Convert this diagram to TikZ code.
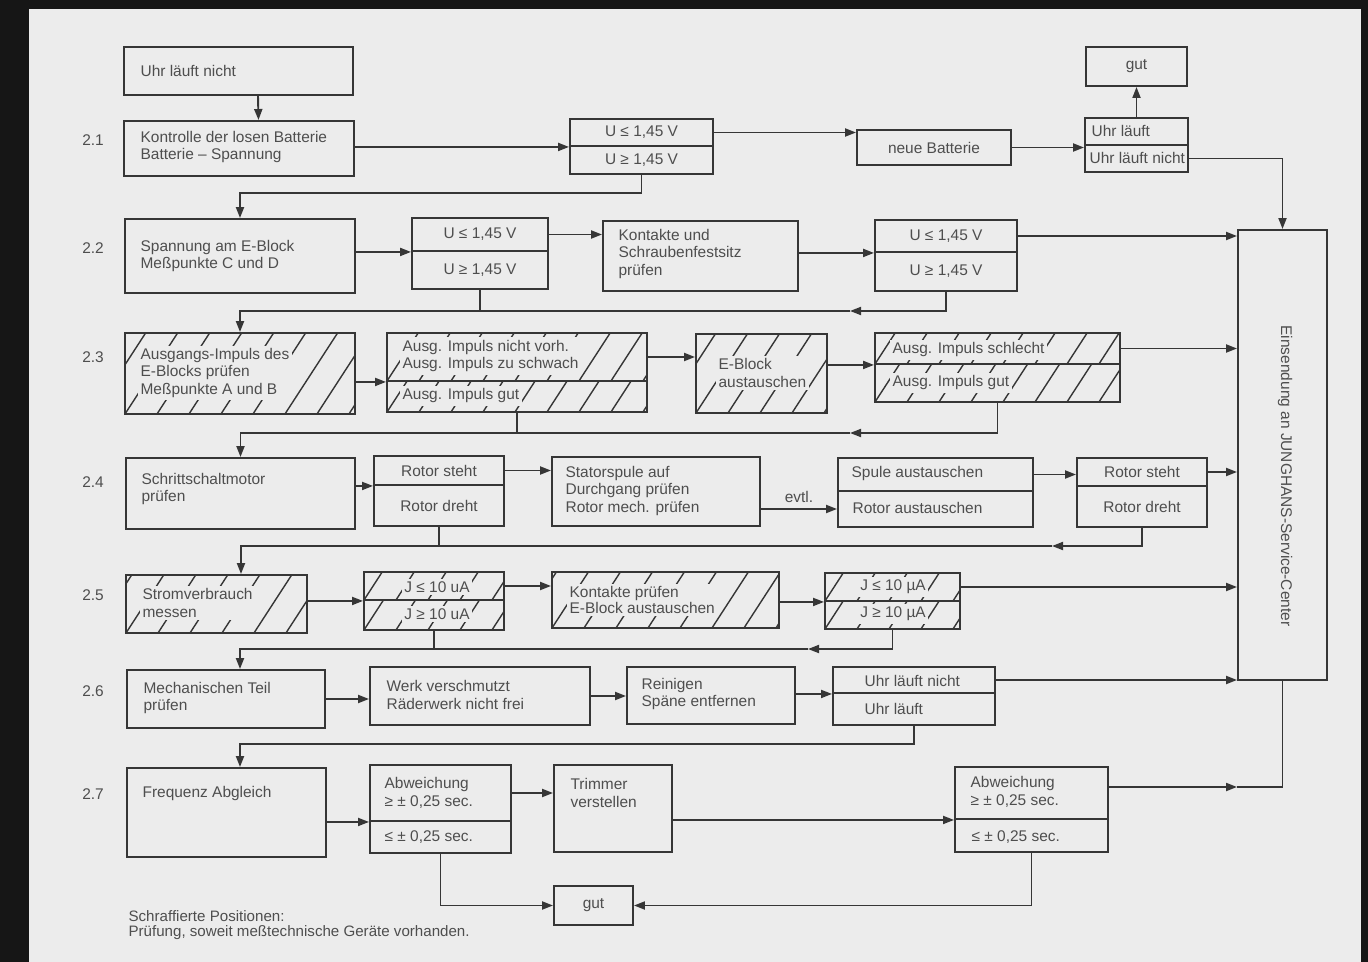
\documentclass[tikz,border=0pt]{standalone}
\usepackage{fontspec}
\setmainfont{Liberation Sans}
\usepackage{tikz}
\usetikzlibrary{arrows.meta,fit,calc}
\definecolor{Frame}{HTML}{161616}
\definecolor{Paper}{HTML}{ECECEC}
\definecolor{Ink}{HTML}{363636}
\definecolor{Type}{HTML}{4E4E4E}

\begin{document}
\begin{tikzpicture}[x=0.02cm,y=-0.02cm,color=Ink,line width=1.1pt,
  >={Triangle[length=2.2mm,width=1.6mm]},
  every node/.style={text=Type,font=\fontsize{8.8}{10}\selectfont},
  box/.style={draw,line width=1.1pt,fill=Paper,inner sep=0pt},
  hatch/.style={box,path picture={
    \foreach \k in {-3,...,9}
      \draw[line width=0.8pt] ([xshift=\k*0.64cm]path picture bounding box.south west) -- ++(57:3cm);}},
  txt/.style={anchor=west,align=left,inner sep=1.5pt},
  htxt/.style={txt,fill=Paper}]
% Page
\fill[Frame] (0,0) rectangle (1368,962);
\fill[Paper] (29,9) rectangle (1361,962);
% Row numbers
\foreach \n/\y [count=\i] in {2.1/140,2.2/248,2.3/357,2.4/482,2.5/595,2.6/691,2.7/794}
  \node (row\i) at (93,\y) {\n};

% Start
\node[box,fit={(124,47) (353,95)}] (start) {};
\node[txt] (tstart) at (137,71) {Uhr läuft nicht};
% 2.1
\node[box,fit={(124,121) (354,176)}] (b21) {};
\node[txt] (t21) at (137,147) {Kontrolle der losen Batterie\\Batterie – Spannung};
\node[box,fit={(570,119) (713,146)}] (s21u) {};
\node[box,fit={(570,146) (713,174)}] (s21l) {};
\node (ts21u) at (s21u) {U ≤ 1,45 V};
\node (ts21l) at (s21l) {U ≥ 1,45 V};
\node[box,fit={(857,130) (1011,165)}] (batt) {};
\node (tbatt) at (batt) {neue Batterie};
\node[box,fit={(1085,118) (1188,145)}] (r21u) {};
\node[box,fit={(1085,145) (1188,172)}] (r21l) {};
\node[txt] (tr21u) at (1088,131) {Uhr läuft};
\node[txt] (tr21l) at (1086,158) {Uhr läuft nicht};
\node[box,fit={(1086,47) (1187,86)}] (gut1) {};
\node (tgut1) at (gut1) {gut};
% Service-Center
\node[box,fit={(1238,230) (1327,680)}] (ej) {};
\node[rotate=-90] (tej) at (1285,476) {Einsendung an JUNGHANS-Service-Center};

% 2.2
\node[box,fit={(125,219) (355,293)}] (b22) {};
\node[txt] (t22) at (137,256) {Spannung am E-Block\\Meßpunkte C und D};
\node[box,fit={(412,218) (548,251)}] (s22u) {};
\node[box,fit={(412,251) (548,289)}] (s22l) {};
\node (ts22u) at (s22u) {U ≤ 1,45 V};
\node (ts22l) at (s22l) {U ≥ 1,45 V};
\node[box,fit={(603,221) (798,291)}] (kont) {};
\node[txt] (tkont) at (615,254) {Kontakte und\\Schraubenfestsitz\\prüfen};
\node[box,fit={(875,220) (1017,252)}] (s22bu) {};
\node[box,fit={(875,252) (1017,291)}] (s22bl) {};
\node (ts22bu) at (s22bu) {U ≤ 1,45 V};
\node (ts22bl) at (s22bl) {U ≥ 1,45 V};
\coordinate (j22) at (850,311);

% 2.3 (hatched)
\node[hatch,fit={(125,333) (355,414)}] (b23) {};
\node[htxt] (t23) at (137,373) {Ausgangs-Impuls des\\E-Blocks prüfen\\Meßpunkte A und B};
\node[hatch,fit={(387,333) (647,381)}] (s23u) {};
\node[hatch,fit={(387,381) (647,412)}] (s23l) {};
\node[htxt] (ts23u) at (399,356) {Ausg. Impuls nicht vorh.\\Ausg. Impuls zu schwach};
\node[htxt] (ts23l) at (399,396) {Ausg. Impuls gut};
\node[hatch,fit={(696,334) (827,413)}] (eblk) {};
\node[htxt] (teblk) at (715,373) {E-Block\\austauschen};
\node[hatch,fit={(875,333) (1120,364)}] (s23bu) {};
\node[hatch,fit={(875,364) (1120,402)}] (s23bl) {};
\node[htxt] (ts23bu) at (889,350) {Ausg. Impuls schlecht};
\node[htxt] (ts23bl) at (889,383) {Ausg. Impuls gut};
\coordinate (j23) at (850,433);

% 2.4
\node[box,fit={(126,458) (355,529)}] (b24) {};
\node[txt] (t24) at (138,489) {Schrittschaltmotor\\prüfen};
\node[box,fit={(374,456) (504,485)}] (s24u) {};
\node[box,fit={(374,485) (504,526)}] (s24l) {};
\node (ts24u) at (s24u) {Rotor steht};
\node (ts24l) at (s24l) {Rotor dreht};
\node[box,fit={(552,457) (760,526)}] (stat) {};
\node[txt] (tstat) at (562,491) {Statorspule auf\\Durchgang prüfen\\Rotor mech. prüfen};
\node[box,fit={(838,458) (1033,491)}] (sp24u) {};
\node[box,fit={(838,491) (1033,527)}] (sp24l) {};
\node[txt] (tsp24u) at (848,474) {Spule austauschen};
\node[txt] (tsp24l) at (849,508) {Rotor austauschen};
\node[box,fit={(1077,458) (1207,486)}] (s24bu) {};
\node[box,fit={(1077,486) (1207,527)}] (s24bl) {};
\node (ts24bu) at (s24bu) {Rotor steht};
\node (ts24bl) at (s24bl) {Rotor dreht};
\coordinate (j24) at (1052,546);

% 2.5 (hatched)
\node[hatch,fit={(126,575) (307,633)}] (b25) {};
\node[htxt] (t25) at (139,603) {Stromverbrauch\\messen};
\node[hatch,fit={(364,572) (504,600)}] (s25u) {};
\node[hatch,fit={(364,600) (504,630)}] (s25l) {};
\node[htxt,anchor=center] (ts25u) at (437,587) {J ≤ 10 uA};
\node[htxt,anchor=center] (ts25l) at (437,614) {J ≥ 10 uA};
\node[hatch,fit={(552,572) (779,628)}] (kont25) {};
\node[htxt,font=\fontsize{8.8}{9}\selectfont] (tkont25) at (566,600) {Kontakte prüfen\\E-Block austauschen};
\node[hatch,fit={(825,573) (960,601)}] (s25bu) {};
\node[hatch,fit={(825,601) (960,629)}] (s25bl) {};
\node[htxt,anchor=center] (ts25bu) at (893,587) {J ≤ 10 µA};
\node[htxt,anchor=center] (ts25bl) at (893,614) {J ≥ 10 µA};
\coordinate (j25) at (808,649);

% 2.6
\node[box,fit={(127,670) (325,728)}] (b26) {};
\node[txt] (t26) at (140,698) {Mechanischen Teil\\prüfen};
\node[box,fit={(370,667) (590,725)}] (werk) {};
\node[txt] (twerk) at (383,695) {Werk verschmutzt\\Räderwerk nicht frei};
\node[box,fit={(627,667) (795,724)}] (rein) {};
\node[txt] (trein) at (638,694) {Reinigen\\Späne entfernen};
\node[box,fit={(833,667) (995,693)}] (s26u) {};
\node[box,fit={(833,693) (995,725)}] (s26l) {};
\node[txt] (ts26u) at (861,681) {Uhr läuft nicht};
\node[txt] (ts26l) at (861,709) {Uhr läuft};

% 2.7
\node[box,fit={(127,768) (326,857)}] (b27) {};
\node[txt] (t27) at (139,793) {Frequenz Abgleich};
\node[box,fit={(370,765) (511,821)}] (s27u) {};
\node[box,fit={(370,821) (511,853)}] (s27l) {};
\node[txt] (ts27u) at (381,793) {Abweichung\\≥ ± 0,25 sec.};
\node[txt] (ts27l) at (381,837) {≤ ± 0,25 sec.};
\node[box,fit={(554,765) (672,852)}] (trim) {};
\node[txt] (ttrim) at (567,793) {Trimmer\\verstellen};
\node[box,fit={(955,767) (1108,819)}] (s27bu) {};
\node[box,fit={(955,819) (1108,852)}] (s27bl) {};
\node[txt] (ts27bu) at (967,792) {Abweichung\\≥ ± 0,25 sec.};
\node[txt] (ts27bl) at (968,837) {≤ ± 0,25 sec.};
\node[box,fit={(554,886) (633,925)}] (gut2) {};
\node (tgut2) at (gut2) {gut};
\coordinate (j27) at (1237,787);

% Footnote
\node[txt,font=\fontsize{8.6}{8.6}\selectfont] (fn) at (125,925) {Schraffierte Positionen:\\Prüfung, soweit meßtechnische Geräte vorhanden.};

% Connectors 2.1
\draw[->] ([xshift=0.39cm]start.south) -- ([xshift=0.39cm]b21.north);
\draw[->] (b21.east |- s21u.south) -- (s21u.south west);
\draw[->] (s21u.east) -- (s21u.east -| batt.west);
\draw[->] (batt.east) -- (batt.east -| r21u.west);
\draw[->] (r21u.north) -- (gut1.south);
\draw[->] (r21l.east) -| (ej.north);
\draw[->] (s21l.south) -- ++(0,18) -| (b22.north);
% Connectors 2.2
\draw[->] (b22.east |- s22u.south) -- (s22u.south west);
\draw[->] (s22u.east) -- (s22u.east -| kont.west);
\draw[->] (kont.east |- s22bu.south) -- (s22bu.south west);
\draw[->] (s22bu.east) -- (s22bu.east -| ej.west);
\draw (s22l.south) -- (s22l.south |- j22);
\draw[->] (s22bl.south) |- (j22);
\draw[->] (j22) -| (b23.north);
% Connectors 2.3
\draw[->] (b23.east |- s23u.south) -- (s23u.south west);
\draw[->] (s23u.east) -- (s23u.east -| eblk.west);
\draw[->] (eblk.east |- s23bu.south) -- (s23bu.south west);
\draw[->] (s23bu.east) -- (s23bu.east -| ej.west);
\draw (s23l.south) -- (s23l.south |- j23);
\draw[->] (s23bl.south) |- (j23);
\draw[->] (j23) -| (b24.north);
% Connectors 2.4
\draw[->] (b24.east |- s24u.south) -- (s24u.south west);
\draw[->] (s24u.east) -- (s24u.east -| stat.west);
\draw[->] (sp24l.west -| stat.east) -- node[above] (evtl) {evtl.} (sp24l.west);
\draw[->] (sp24u.east) -- (sp24u.east -| s24bu.west);
\draw[->] (s24bu.east) -- (s24bu.east -| ej.west);
\draw (s24l.south) -- (s24l.south |- j24);
\draw[->] (s24bl.south) |- (j24);
\draw[->] (j24) -| ([xshift=0.49cm]b25.north);
% Connectors 2.5
\draw[->] (b25.east |- s25u.south) -- (s25u.south west);
\draw[->] (s25u.east) -- (s25u.east -| kont25.west);
\draw[->] (kont25.east |- s25bu.south) -- (s25bu.south west);
\draw[->] (s25bu.east) -- (s25bu.east -| ej.west);
\draw (s25l.south) -- (s25l.south |- j25);
\draw[->] (s25bl.south) |- (j25);
\draw[->] (j25) -| ([xshift=0.28cm]b26.north);
% Connectors 2.6
\draw[->] (b26.east) -- (b26.east -| werk.west);
\draw[->] (werk.east) -- (werk.east -| rein.west);
\draw[->] (rein.east |- s26u.south) -- (s26u.south west);
\draw[->] (s26u.east) -- (s26u.east -| ej.west);
\draw[->] (s26l.south) -- ++(0,18) -| ([xshift=0.27cm]b27.north);
% Connectors 2.7
\draw[->] (b27.east |- s27u.south) -- (s27u.south west);
\draw[->] (s27u.east) -- (s27u.east -| trim.west);
\draw[->] (trim.east |- s27bu.south) -- (s27bu.south west);
\draw[->] (s27bu.east |- j27) -- (j27);
\draw (j27) -| (ej.south);
\draw[->] (s27l.south) |- (gut2.west);
\draw[->] (s27bl.south) |- (gut2.east);
\end{tikzpicture}
\end{document}
